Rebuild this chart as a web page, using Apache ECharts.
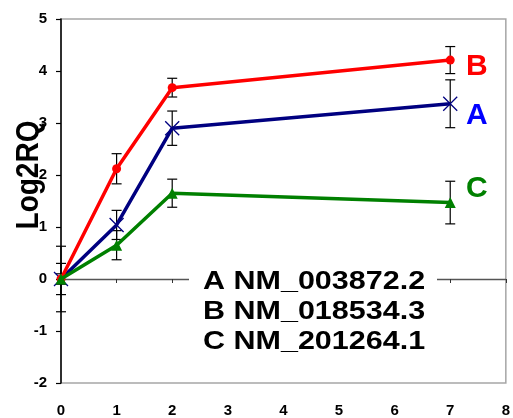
<!DOCTYPE html>
<html>
<head>
<meta charset="utf-8">
<script src="https://cdn.jsdelivr.net/npm/echarts@6/dist/echarts.min.js"></script>
<style>
html,body{margin:0;padding:0;background:#fff;}
#chart{width:513px;height:418px;}
</style>
</head>
<body>
<div id="chart"></div>
<script>
const xValues = [0, 1, 2, 7];
const seriesA = [0, 1.04, 2.90, 3.37];
const errA = [0.63, 0.28, 0.33, 0.46];
const seriesB = [0, 2.12, 3.68, 4.21];
const errB = [0.30, 0.29, 0.18, 0.26];
const seriesC = [0, 0.65, 1.65, 1.47];
const errC = [0.10, 0.28, 0.27, 0.41];
const seriesNames = ['A', 'B', 'C'];
const legendLines = ['A NM_003872.2', 'B NM_018534.3', 'C NM_201264.1'];
const yAxisTitle = 'Log2RQ';

const FONT = '"Liberation Sans", Arial, sans-serif';

function pairs(vals, errs) {
  return xValues.map((x, i) => errs ? [x, vals[i], errs[i]] : [x, vals[i]]);
}

function errRender(params, api) {
  const x = api.value(0), y = api.value(1), e = api.value(2);
  const t = api.coord([x, y + e]);
  const b = api.coord([x, y - e]);
  const hw = 5;
  const st = { stroke: '#000', lineWidth: 1.2 };
  return {
    type: 'group',
    children: [
      { type: 'line', shape: { x1: t[0], y1: t[1], x2: b[0], y2: b[1] }, style: st },
      { type: 'line', shape: { x1: t[0] - hw, y1: t[1], x2: t[0] + hw, y2: t[1] }, style: st },
      { type: 'line', shape: { x1: b[0] - hw, y1: b[1], x2: b[0] + hw, y2: b[1] }, style: st }
    ]
  };
}

const chart = echarts.init(document.getElementById('chart'), null, { renderer: 'canvas' });

const labelStyle = { fontFamily: FONT, fontWeight: 'bold', fontSize: 15, color: '#000' };

const option = {
  animation: false,
  backgroundColor: '#fff',
  grid: { left: 61, right: 6, top: 19, bottom: 35, show: true, borderColor: '#a6a6a6', borderWidth: 1.5 },
  xAxis: [
    {
      type: 'value', min: 0, max: 8, interval: 1, position: 'bottom',
      axisLine: { show: false, onZero: false },
      axisTick: { show: false },
      splitLine: { show: false },
      axisLabel: Object.assign({ margin: 20 }, labelStyle)
    },
    {
      type: 'value', min: 0, max: 8, interval: 1,
      axisLine: { show: true, onZero: true, lineStyle: { color: '#555', width: 1.3 } },
      axisTick: { show: true, inside: true, length: 4, lineStyle: { color: '#333', width: 1 } },
      splitLine: { show: false },
      axisLabel: { show: false }
    }
  ],
  yAxis: {
    type: 'value', min: -2, max: 5, interval: 1,
    axisLine: { show: true, onZero: false, lineStyle: { color: '#000', width: 1.5 } },
    axisTick: { show: true, inside: false, length: 5, lineStyle: { color: '#000', width: 1.2 } },
    splitLine: { show: false },
    axisLabel: Object.assign({ margin: 14 }, labelStyle)
  },
  series: [
    {
      name: 'errA', type: 'custom', renderItem: errRender, data: pairs(seriesA, errA),
      encode: { x: 0, y: 1 }, z: 1, silent: true
    },
    {
      name: 'errB', type: 'custom', renderItem: errRender, data: pairs(seriesB, errB),
      encode: { x: 0, y: 1 }, z: 1, silent: true
    },
    {
      name: 'errC', type: 'custom', renderItem: errRender, data: pairs(seriesC, errC),
      encode: { x: 0, y: 1 }, z: 1, silent: true
    },
    {
      name: seriesNames[0], type: 'line', data: pairs(seriesA), z: 3,
      lineStyle: { color: '#000080', width: 3.5 },
      symbol: 'path://M0,0L20,20M20,0L0,20', symbolSize: 14,
      itemStyle: { color: '#000080', borderColor: '#000080', borderWidth: 1.3 }
    },
    {
      name: seriesNames[1], type: 'line', data: pairs(seriesB), z: 4,
      lineStyle: { color: '#ff0000', width: 3.5 },
      symbol: 'circle', symbolSize: 9,
      itemStyle: { color: '#ff0000', borderWidth: 0 }
    },
    {
      name: seriesNames[2], type: 'line', data: pairs(seriesC), z: 5,
      lineStyle: { color: '#008000', width: 3.5 },
      symbol: 'triangle', symbolSize: 11,
      itemStyle: { color: '#008000', borderWidth: 0 }
    }
  ],
  graphic: [
    {
      type: 'text', x: 30, y: 175, rotation: Math.PI / 2, scaleY: 1.1, z: 10,
      style: { text: yAxisTitle, fontFamily: FONT, fontWeight: 'bold', fontSize: 28, fill: '#000',
               textAlign: 'center', textVerticalAlign: 'middle' }
    },
    {
      type: 'rect', shape: { x: 189, y: 264, width: 248, height: 96 }, z: 20,
      style: { fill: '#fff' }
    },
    {
      type: 'text', x: 203, y: 282, scaleX: 1.22, z: 21,
      style: { text: legendLines[0], fontFamily: FONT, fontWeight: 'bold', fontSize: 25, fill: '#000',
               textAlign: 'left', textVerticalAlign: 'middle' }
    },
    {
      type: 'text', x: 203, y: 312, scaleX: 1.22, z: 21,
      style: { text: legendLines[1], fontFamily: FONT, fontWeight: 'bold', fontSize: 25, fill: '#000',
               textAlign: 'left', textVerticalAlign: 'middle' }
    },
    {
      type: 'text', x: 203, y: 342, scaleX: 1.22, z: 21,
      style: { text: legendLines[2], fontFamily: FONT, fontWeight: 'bold', fontSize: 25, fill: '#000',
               textAlign: 'left', textVerticalAlign: 'middle' }
    },
    {
      type: 'text', x: 466, y: 67, z: 21,
      style: { text: seriesNames[1], fontFamily: FONT, fontWeight: 'bold', fontSize: 30, fill: '#ff0000',
               textAlign: 'left', textVerticalAlign: 'middle' }
    },
    {
      type: 'text', x: 466, y: 116, z: 21,
      style: { text: seriesNames[0], fontFamily: FONT, fontWeight: 'bold', fontSize: 30, fill: '#0000ff',
               textAlign: 'left', textVerticalAlign: 'middle' }
    },
    {
      type: 'text', x: 466, y: 189, z: 21,
      style: { text: seriesNames[2], fontFamily: FONT, fontWeight: 'bold', fontSize: 30, fill: '#008000',
               textAlign: 'left', textVerticalAlign: 'middle' }
    }
  ]
};
chart.setOption(option);
</script>
</body>
</html>
